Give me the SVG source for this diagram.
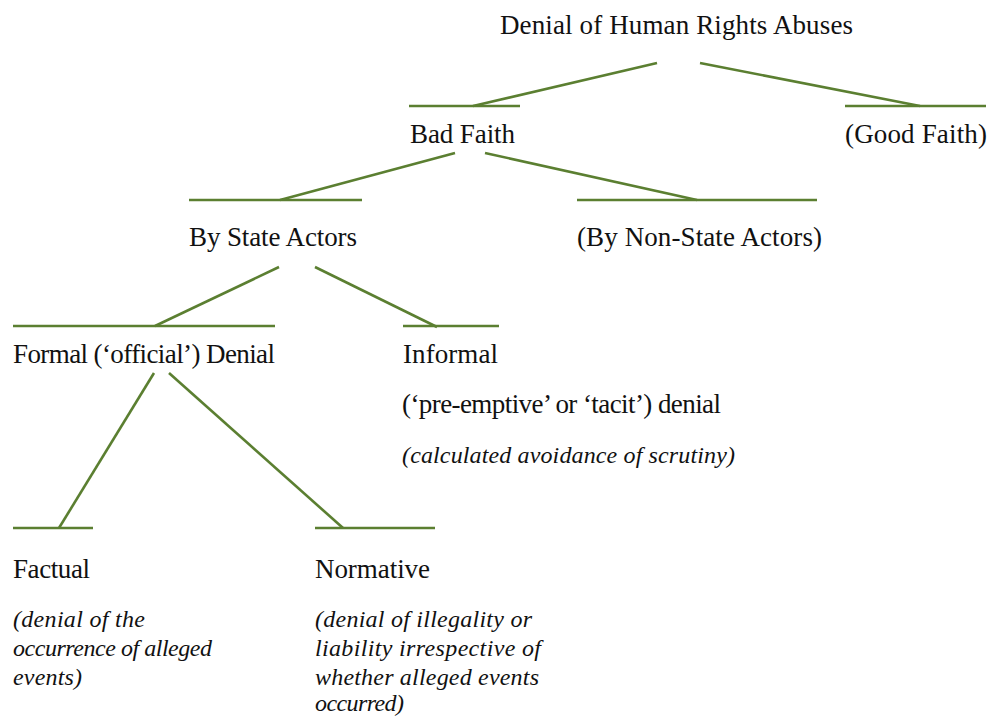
<svg xmlns="http://www.w3.org/2000/svg" width="998" height="717" viewBox="0 0 998 717">
<style>
.t{font-family:"Liberation Serif","Times New Roman",serif;font-size:27px;fill:#111}
.i{font-family:"Liberation Serif","Times New Roman",serif;font-size:24px;font-style:italic;fill:#111}
.c line{stroke:#5b7f31;stroke-width:2.6;fill:none}
</style>
<rect width="998" height="717" fill="#fff"/>
<g class="c" id="connectors">
<line x1="657" y1="63" x2="473" y2="106"/>
<line x1="700" y1="63" x2="920" y2="106"/>
<line x1="409" y1="106" x2="520" y2="106"/>
<line x1="845" y1="106" x2="986" y2="106"/>
<line x1="455" y1="153" x2="280" y2="200"/>
<line x1="485" y1="153" x2="697" y2="200"/>
<line x1="189" y1="200" x2="362" y2="200"/>
<line x1="577" y1="200" x2="817" y2="200"/>
<line x1="279" y1="267" x2="155" y2="326"/>
<line x1="315" y1="267" x2="437" y2="327"/>
<line x1="13" y1="326" x2="275" y2="326"/>
<line x1="403" y1="326" x2="499" y2="326"/>
<line x1="154" y1="373" x2="59" y2="528"/>
<line x1="169" y1="373" x2="343" y2="528"/>
<line x1="13" y1="528" x2="93" y2="528"/>
<line x1="315" y1="528" x2="435" y2="528"/>
</g>
<g id="root"><text class="t" x="500" y="34" textLength="353">Denial of Human Rights Abuses</text></g>
<g id="bad-faith"><text class="t" x="410" y="143" textLength="105">Bad Faith</text></g>
<g id="good-faith"><text class="t" x="845" y="143" textLength="142">(Good Faith)</text></g>
<g id="state-actors"><text class="t" x="189" y="246" textLength="168">By State Actors</text></g>
<g id="non-state-actors"><text class="t" x="577" y="246" textLength="245">(By Non-State Actors)</text></g>
<g id="formal"><text class="t" x="13" y="363" textLength="262">Formal (‘official’) Denial</text></g>
<g id="informal">
<text class="t" x="403" y="363" textLength="95">Informal</text>
<text class="t" x="402" y="413" textLength="319">(‘pre-emptive’ or ‘tacit’) denial</text>
<text class="i" x="402" y="463" textLength="333">(calculated avoidance of scrutiny)</text>
</g>
<g id="factual">
<text class="t" x="13" y="578" textLength="77">Factual</text>
<text class="i" x="13" y="627" textLength="132">(denial of the</text>
<text class="i" x="13" y="656" textLength="199">occurrence of alleged</text>
<text class="i" x="13" y="685" textLength="69">events)</text>
</g>
<g id="normative">
<text class="t" x="315" y="578" textLength="115">Normative</text>
<text class="i" x="315" y="627" textLength="217">(denial of illegality or</text>
<text class="i" x="315" y="656" textLength="226">liability irrespective of</text>
<text class="i" x="315" y="685" textLength="224">whether alleged events</text>
<text class="i" x="315" y="711" textLength="89">occurred)</text>
</g>
</svg>
